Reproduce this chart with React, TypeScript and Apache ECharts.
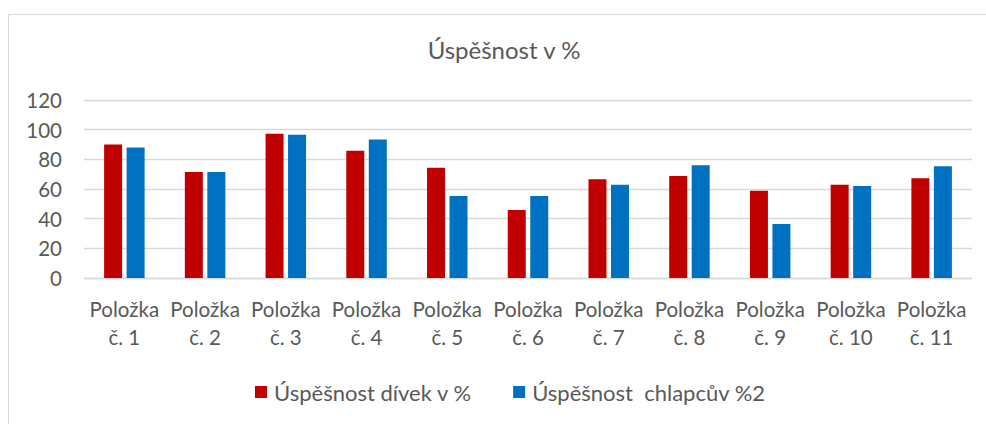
import React, { useEffect, useRef } from "react";
import * as echarts from "echarts";

const categories = [
  "Položka\nč. 1",
  "Položka\nč. 2",
  "Položka\nč. 3",
  "Položka\nč. 4",
  "Položka\nč. 5",
  "Položka\nč. 6",
  "Položka\nč. 7",
  "Položka\nč. 8",
  "Položka\nč. 9",
  "Položka\nč. 10",
  "Položka\nč. 11",
];
const girls = [90, 71.5, 97.3, 85.8, 74.4, 45.9, 66.5, 68.8, 58.9, 62.9, 67.2];
const boys = [88, 71.5, 96.6, 93.3, 55.3, 55.3, 62.9, 76, 36.4, 62, 75.3];
const seriesNames = ["Úspěšnost dívek v %", "Úspěšnost  chlapcův %2"];
const titleText = "Úspěšnost v %";

const FONT = "Lato";
const TEXT = "#595959";

export default function App() {
  const ref = useRef<HTMLDivElement>(null);
  useEffect(() => {
    if (!ref.current) return;
    const chart = echarts.init(ref.current, null, { renderer: "svg" });
    chart.setOption({
      animation: false,
      backgroundColor: "#ffffff",
      textStyle: { fontFamily: FONT, color: TEXT },
      title: {
        text: titleText,
        left: 504,
        textAlign: "center",
        top: 37,
        padding: 0,
        textStyle: { fontFamily: FONT, fontSize: 24, fontWeight: "normal", color: TEXT },
      },
      graphic: [
        {
          type: "rect",
          shape: { x: 8.5, y: 14.5, width: 1000, height: 500 },
          style: { fill: "none", stroke: "#d9d9d9", lineWidth: 1 },
          silent: true,
        },
      ],
      legend: {
        left: 255,
        top: 381,
        padding: 0,
        itemWidth: 12,
        itemHeight: 12,
        itemGap: 41,
        icon: "rect",
        textStyle: { fontFamily: FONT, fontSize: 22, color: TEXT, padding: [0, 0, 0, 2] },
        data: seriesNames,
      },
      grid: { left: 84, right: 14, top: 100, bottom: 146 },
      xAxis: {
        type: "category",
        data: categories,
        axisLine: { show: true, lineStyle: { color: "#d9d9d9", width: 1.3 } },
        axisTick: { show: false },
        axisLabel: {
          fontFamily: FONT,
          fontSize: 20.5,
          color: TEXT,
          lineHeight: 28,
          margin: 17,
          interval: 0,
        },
      },
      yAxis: {
        type: "value",
        min: 0,
        max: 120,
        interval: 20,
        axisLine: { show: false },
        axisTick: { show: false },
        splitLine: { lineStyle: { color: "#d9d9d9", width: 1.3 } },
        axisLabel: { fontFamily: FONT, fontSize: 20.5, color: TEXT, margin: 22 },
      },
      series: [
        {
          name: seriesNames[0],
          type: "bar",
          data: girls,
          barWidth: 18,
          barGap: "25%",
          itemStyle: { color: "#C00000" },
        },
        {
          name: seriesNames[1],
          type: "bar",
          data: boys,
          barWidth: 18,
          barGap: "25%",
          itemStyle: { color: "#0070C0" },
        },
      ],
    });
    return () => chart.dispose();
  }, []);
  return (
    <div
      ref={ref}
      style={{ position: "fixed", left: 0, top: 0, width: 986, height: 424 }}
    />
  );
}
